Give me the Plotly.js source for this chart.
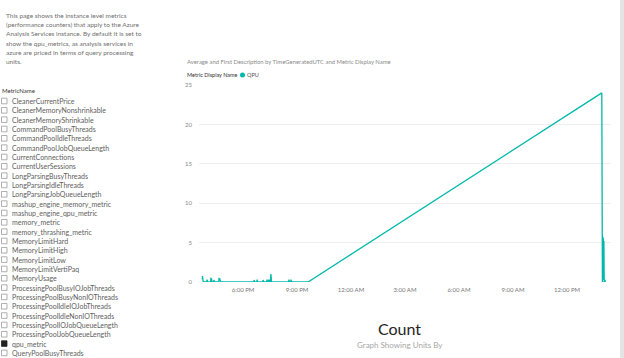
<!DOCTYPE html>
<html><head><meta charset="utf-8">
<script src="https://cdn.plot.ly/plotly-3.0.1.min.js"></script>
<style>html,body{margin:0;padding:0;background:#fff;overflow:hidden}#chart{width:624px;height:358px}</style>
</head><body><div id="chart"></div>
<script>
// ---- data ----
const times = [
 '2019-01-01 15:44','2019-01-01 15:45','2019-01-01 15:47','2019-01-01 15:52',
 '2019-01-01 15:59','2019-01-01 16:00','2019-01-01 16:02',
 '2019-01-01 16:12','2019-01-01 16:13','2019-01-01 16:15','2019-01-01 16:17',
 '2019-01-01 16:22','2019-01-01 16:23','2019-01-01 16:25',
 '2019-01-01 16:39','2019-01-01 16:40','2019-01-01 16:43','2019-01-01 16:45',
 '2019-01-01 18:36','2019-01-01 18:37','2019-01-01 18:39',
 '2019-01-01 18:46','2019-01-01 18:47','2019-01-01 18:49',
 '2019-01-01 19:06','2019-01-01 19:07','2019-01-01 19:09',
 '2019-01-01 19:19','2019-01-01 19:20','2019-01-01 19:22',
 '2019-01-01 19:25','2019-01-01 19:26','2019-01-01 19:28',
 '2019-01-01 19:31','2019-01-01 19:33','2019-01-01 19:35',
 '2019-01-01 20:32','2019-01-01 20:33','2019-01-01 20:35',
 '2019-01-01 20:39','2019-01-01 20:40','2019-01-01 20:42',
 '2019-01-01 21:37',
 '2019-01-02 13:56','2019-01-02 13:58','2019-01-02 13:59','2019-01-02 14:00',
 '2019-01-02 14:01','2019-01-02 14:02','2019-01-02 14:03','2019-01-02 14:04',
 '2019-01-02 14:06','2019-01-02 14:08'
];
const qpu = [
 0.35,0.75,0.1,0,
 0,0.3,0,
 0,0.45,0.4,0,
 0,0.25,0,
 0,0.45,0.4,0,
 0,0.25,0,
 0,0.3,0,
 0,0.25,0,
 0,0.3,0,
 0,0.3,0,
 0,1.0,0,
 0,0.3,0,
 0,0.3,0,
 0,
 24,0,5.7,0.4,
 5.5,0.3,5.2,0,
 0.3,0
];
const yTicks = [0,5,10,15,20,25];
const metricNames = ['CleanerCurrentPrice','CleanerMemoryNonshrinkable','CleanerMemoryShrinkable',
 'CommandPoolBusyThreads','CommandPoolIdleThreads','CommandPoolJobQueueLength','CurrentConnections',
 'CurrentUserSessions','LongParsingBusyThreads','LongParsingIdleThreads','LongParsingJobQueueLength',
 'mashup_engine_memory_metric','mashup_engine_qpu_metric','memory_metric','memory_thrashing_metric',
 'MemoryLimitHard','MemoryLimitHigh','MemoryLimitLow','MemoryLimitVertiPaq','MemoryUsage',
 'ProcessingPoolBusyIOJobThreads','ProcessingPoolBusyNonIOThreads','ProcessingPoolIdleIOJobThreads',
 'ProcessingPoolIdleNonIOThreads','ProcessingPoolIOJobQueueLength','ProcessingPoolJobQueueLength',
 'qpu_metric','QueryPoolBusyThreads'];
const selectedMetric = 'qpu_metric';
const descriptionLines = [
 'This page shows the instance level metrics',
 '(performance counters) that apply to the Azure',
 'Analysis Services instance. By default it is set to',
 'show the qpu_metrics, as analysis services in',
 'azure are priced in terms of query processing',
 'units.'];
const slicerTitle = 'MetricName';
const chartTitle = 'Average and First Description by TimeGeneratedUTC and Metric Display Name';
const legendTitle = 'Metric Display Name';
const seriesName = 'QPU';
const cardValue = 'Count';
const cardLabel = 'Graph Showing Units By';
const xRange = ['2019-01-01 15:33:20','2019-01-02 14:26:40'];

// ---- layout helpers ----
const W = 624, H = 358;
const px = x => x / W, py = y => 1 - y / H;
const FONT = 'Lato, "Open Sans", sans-serif';
const TEAL = '#01B8AA';

const annotations = [];
const shapes = [];
function label(text, x, y, size, color, anchor) {
  annotations.push({text, x: px(x), y: py(y), xref: 'paper', yref: 'paper',
    xanchor: anchor || 'left', yanchor: 'middle', showarrow: false,
    borderpad: 0, font: {family: FONT, size, color}});
}
descriptionLines.forEach((t, i) => label(t, 4.5, 15 + i * 9.35, 6.5, '#707070'));
label(slicerTitle, 1, 90, 6, '#333');
metricNames.forEach((m, i) => {
  const y = 101 + i * 9.33;
  const sel = m === selectedMetric;
  shapes.push({type: 'rect', xref: 'paper', yref: 'paper',
    x0: px(1.5), x1: px(7), y0: py(y + 2.8), y1: py(y - 2.8),
    line: {color: sel ? '#222' : '#9a9a9a', width: 0.8}, fillcolor: sel ? '#222' : '#fff'});
  label(m, 11, y, 7, '#605e5c');
});
label(chartTitle, 186, 62, 5.9, '#8a8a8a');
label(legendTitle, 186, 75, 5.5, '#333');
shapes.push({type: 'circle', xref: 'paper', yref: 'paper',
  x0: px(240), x1: px(245), y0: py(77.5), y1: py(72.5), fillcolor: TEAL, line: {width: 0}});
label(seriesName, 246, 75, 5.5, '#555');
label(cardValue, 399.5, 328, 16, '#252423', 'center');
label(cardLabel, 400, 344.5, 8, '#a6a6a6', 'center');
shapes.push({type: 'rect', xref: 'paper', yref: 'paper', x0: px(620), x1: 1, y0: 0, y1: 1,
  fillcolor: '#e4e4e4', line: {width: 0}, layer: 'below'});

const trace = {type: 'scatter', mode: 'lines', x: times, y: qpu, name: seriesName,
  line: {color: TEAL, width: 1.3}, hoverinfo: 'x+y'};

const layout = {
  width: W, height: H, margin: {l: 0, r: 0, t: 0, b: 0},
  paper_bgcolor: '#fff', plot_bgcolor: '#fff', showlegend: false,
  font: {family: FONT},
  xaxis: {type: 'date', domain: [px(199), px(611)], range: xRange,
    tick0: '2019-01-01 18:00', dtick: 3 * 3600 * 1000, tickformat: '%-I:%M %p',
    showgrid: false, zeroline: false, showline: false, ticks: '',
    tickfont: {family: FONT, size: 6, color: '#777'}, ticklabelstandoff: 3},
  yaxis: {domain: [py(282), py(85)], range: [0, 25], tickvals: yTicks,
    gridcolor: '#eeeeee', gridwidth: 1, zeroline: false, showline: false, ticks: '',
    tickfont: {family: FONT, size: 6, color: '#888'}, ticklabelstandoff: 6},
  annotations, shapes
};
Plotly.newPlot('chart', [trace], layout, {staticPlot: true, displayModeBar: false});
</script></body></html>
